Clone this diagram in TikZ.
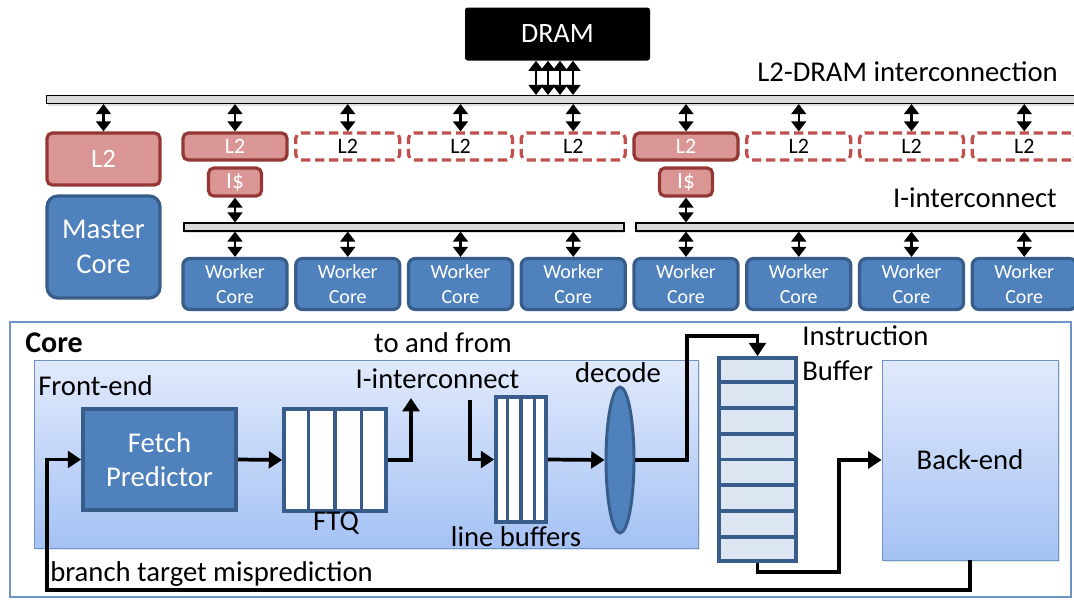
\documentclass[tikz,border=0pt]{standalone}
\usepackage{fontspec}
\setmainfont{Carlito}
\usepackage{tikz}
\usetikzlibrary{arrows.meta}
\usetikzlibrary{calc}
\usetikzlibrary{shapes.geometric}
\usetikzlibrary{shadows}
\definecolor{coreblue}{HTML}{4F81BD}
\definecolor{coreedge}{HTML}{385D8A}
\definecolor{cachefill}{HTML}{D99694}
\definecolor{cacheedge}{HTML}{953735}
\definecolor{cachedash}{HTML}{C0504D}
\definecolor{feedtop}{HTML}{E1EAFC}
\definecolor{feedbot}{HTML}{A5C2F4}
\definecolor{bufcell}{HTML}{DCE6F2}
\definecolor{frameblue}{HTML}{6E95C8}
\tikzstyle{lbl}=[inner sep=0pt, font=\fontsize{21.5}{26}\selectfont]
\tikzstyle{bus}=[draw, fill=black!15, line width=0.8pt, minimum height=6pt, inner sep=0pt, drop shadow={opacity=0.25, shadow xshift=1pt, shadow yshift=-1.5pt}]
\tikzstyle{cache}=[draw=cacheedge, fill=cachefill, line width=2.4pt, rounded corners=4pt, text=white, inner sep=0pt, minimum width=78pt, minimum height=20.25pt, font=\fontsize{16.5}{20}\selectfont]
\tikzstyle{spare}=[cache, draw=cachedash, fill=white, text=black, dash pattern=on 7pt off 3.5pt]
\tikzstyle{wcore}=[draw=coreedge, fill=coreblue, line width=2.4pt, rounded corners=5pt, text=white, align=center, inner sep=0pt, minimum width=78pt, minimum height=38.25pt, font=\fontsize{15}{19}\selectfont]
\tikzstyle{link}=[{Triangle[width=11pt,length=7.5pt]}-{Triangle[width=11pt,length=7.5pt]}, line width=1.8pt]
\tikzstyle{flow}=[-{Triangle[width=12.5pt,length=10pt]}, line width=2.8pt]
\tikzstyle{stage}=[draw=coreedge, line width=2.8pt, inner sep=0pt]
\tikzstyle{unit}=[draw=frameblue, line width=0.7pt, top color=feedtop, bottom color=feedbot, inner sep=0pt, drop shadow={opacity=0.2, shadow xshift=1.5pt, shadow yshift=-1.5pt}]
\begin{document}
\begin{tikzpicture}[x=0.75pt, y=-0.75pt]
        \clip (0,0) rectangle (1074,600);
        % memory side
        \node[fill=black, text=white, rounded corners=2pt, minimum width=138.75pt, minimum height=39.75pt, font=\fontsize{21}{25}\selectfont] (DRAM) at (557.5,34) {DRAM};
        \node[bus, minimum width=790pt] (B0) at (573.5,99.5) {};
        \node[lbl, anchor=east] (T0) at (1058,72) {L2-DRAM interconnection};
        \foreach \dx in {-21.5,-9.5,2.5,15.5}
            \draw[link] ([xshift=\dx*0.75pt]DRAM.south) -- ([xshift=\dx*0.75pt]DRAM.south |- B0.north);
        \node[cache, minimum width=84.75pt, minimum height=39pt, font=\fontsize{20}{24}\selectfont] (M2) at (103.5,159) {L2};
        \node[wcore, rounded corners=8pt, minimum width=84.75pt, minimum height=76.5pt, font=\fontsize{21.5}{26}\selectfont] (MC) at (103.5,247) {Master\\Core};
        \draw[link] (M2.north |- B0.south) -- (M2.north);
        \node[bus, minimum width=330pt] (B1) at (404,227) {};
        \node[bus, minimum width=348pt] (B2) at (868,227) {};
        \node[lbl, anchor=east] (T1) at (1057,198) {I-interconnect};
        \foreach \i/\s in {1/cache,2/spare,3/spare,4/spare,5/cache,6/spare,7/spare,8/spare} {
            \pgfmathsetmacro{\cx}{235+112.75*(\i-1)}
            \node[\s] (L\i) at (\cx,146.5) {L2};
            \node[wcore] (W\i) at (\cx,284) {Worker\\Core};
            \draw[link] (L\i.north |- B0.south) -- (L\i.north);
            \draw[link] (W\i.north |- B1.south) -- (W\i.north);
        }
        \node[cache, minimum width=39.75pt, minimum height=21pt, font=\fontsize{17.5}{20}\selectfont] (I1) at (L1 |- 0,182) {I\$};
        \node[cache, minimum width=39.75pt, minimum height=21pt, font=\fontsize{17.5}{20}\selectfont] (I5) at (L5 |- 0,182) {I\$};
        \draw[link] (I1.south) -- (I1.south |- B1.north);
        \draw[link] (I5.south) -- (I5.south |- B2.north);
        % core detail
        \node[draw=frameblue, line width=2pt, minimum width=795.75pt, minimum height=206.25pt] (CORE) at (540.5,459.5) {};
        \node[lbl, anchor=west, font=\fontsize{22.5}{26}\selectfont\bfseries] (T2) at (25,343) {Core};
        \node[unit, minimum width=498pt, minimum height=141pt] (FE) at (366,454) {};
        \node[lbl, anchor=west] (T3) at (38,386) {Front-end};
        \node[stage, fill=coreblue, text=white, align=center, minimum width=114.75pt, minimum height=75.75pt, font=\fontsize{21.5}{26}\selectfont] (FP) at (159.5,459.5) {Fetch\\Predictor};
        \node[stage, fill=white, minimum size=76.5pt] (FTQ) at (335,460) {};
        \foreach \f in {0.25,0.5,0.75}
            \draw[coreedge, line width=2.8pt] ($(FTQ.north west)!\f!(FTQ.north east)$) -- ($(FTQ.south west)!\f!(FTQ.south east)$);
        \node[lbl] (T4) at (336,523) {FTQ};
        \node[lbl] (T5) at (443,343) {to and from};
        \node[lbl] (T6) at (437.5,379) {I-interconnect};
        \node[stage, fill=white, minimum width=37.5pt, minimum height=93.75pt] (LB) at (521,459.5) {};
        \foreach \f in {0.25,0.5,0.75}
            \draw[coreedge, line width=2.8pt] ($(LB.north west)!\f!(LB.north east)$) -- ($(LB.south west)!\f!(LB.south east)$);
        \node[lbl] (T7) at (516,537) {line buffers};
        \node[stage, ellipse, fill=coreblue, line width=2.2pt, minimum width=21pt, minimum height=109.5pt] (DEC) at (620,460) {};
        \node[lbl] (T8) at (618,373) {decode};
        \node[stage, fill=bufcell, minimum width=57.75pt, minimum height=152.25pt] (IB) at (757.5,459.5) {};
        \foreach \f in {0.125,0.25,0.375,0.5,0.625,0.75,0.875}
            \draw[coreedge, line width=2.8pt] ($(IB.north west)!\f!(IB.south west)$) -- ($(IB.north east)!\f!(IB.south east)$);
        \node[lbl, anchor=west] (T9) at (802,336) {Instruction};
        \node[lbl, anchor=west] (T10) at (802,371) {Buffer};
        \node[unit, minimum width=132pt, minimum height=150pt, font=\fontsize{21.5}{26}\selectfont] (BE) at (970,460) {Back-end};
        \node[lbl, anchor=west] (T11) at (50,574) {branch target misprediction};
        % paths
        \coordinate (up) at (411,398);
        \coordinate (dn) at (470,400);
        \coordinate (k1) at (687,336);
        \coordinate (k2) at (839,572);
        \coordinate (k3) at (47,590);
        \draw[flow] (FP.east) -- (FTQ.west);
        \draw[flow] (FTQ.east) -| (up);
        \draw[flow] (dn) |- (LB.west);
        \draw[flow] (LB.east) -- (DEC.west);
        \draw[flow] (DEC.east) -| (k1) -| (IB.north);
        \draw[flow] (IB.south) |- (k2) |- (BE.west);
        \draw[flow] (BE.south) |- (k3) |- (FP.west);
    \end{tikzpicture}
\end{document}
